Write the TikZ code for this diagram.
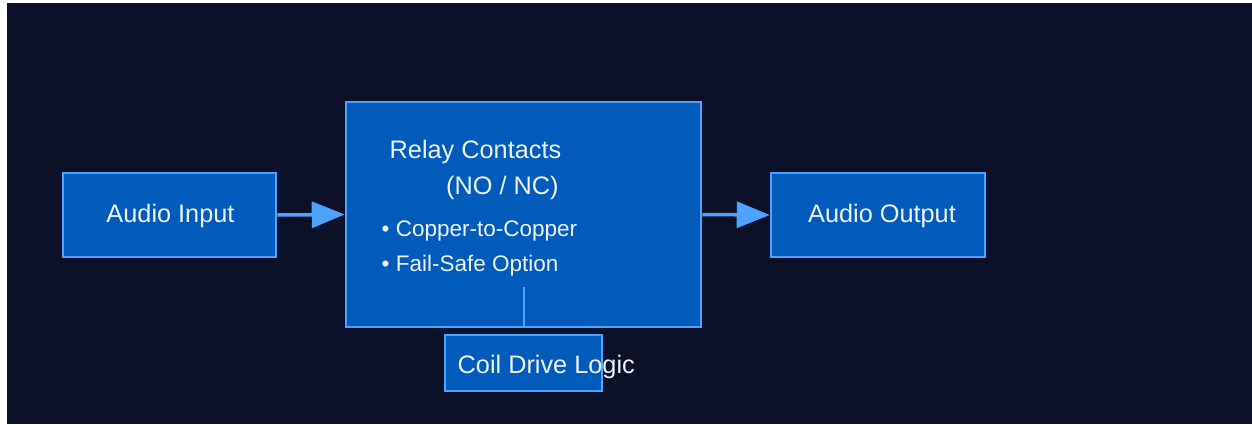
\documentclass[tikz,border=0pt]{standalone}
\usepackage{fontspec}
\setmainfont{Liberation Sans}
\usetikzlibrary{arrows.meta}
\definecolor{bgnavy}{RGB}{10,17,40}
\definecolor{boxfill}{RGB}{0,91,187}
\definecolor{boxline}{RGB}{77,163,255}
\definecolor{txt}{RGB}{240,244,255}
\tikzset{
  blockbox/.style={draw=boxline, fill=boxfill, line width=2.5pt, inner sep=0pt},
  maintext/.style={text=txt, inner sep=0pt, font=\fontsize{25.3}{30}\selectfont},
  bullettext/.style={text=txt, inner sep=0pt, anchor=base west, font=\fontsize{22.5}{27}\selectfont},
  flow/.style={draw=boxline, line width=3.5pt, -{Triangle[length=33pt,width=26pt]}},
  stubline/.style={draw=boxline, line width=2pt}
}
\begin{document}
\begin{tikzpicture}[x=1pt,y=-1pt]
\useasboundingbox (0,0) rectangle (1252,424);
\fill[white] (0,0) rectangle (1252,424);
\fill[bgnavy] (7,3) rectangle (1252,424);
% blocks
\node[blockbox, minimum width=213pt, minimum height=84pt] (in) at (169.5,215) {};
\node[blockbox, minimum width=355pt, minimum height=225pt] (relay) at (523.5,214.5) {};
\node[blockbox, minimum width=214pt, minimum height=84pt] (out) at (878,215) {};
\node[blockbox, minimum width=157pt, minimum height=56pt] (coil) at (523.5,363) {};
% texts
\node[maintext, anchor=base] (intext) at (170.5,222.5) {Audio Input};
\node[maintext, anchor=base] (outtext) at (882,222.5) {Audio Output};
\node[maintext, anchor=base west] (rt1) at (389.5,158.3) {Relay Contacts};
\node[maintext, anchor=base west] (rt2) at (446,194) {(NO / NC)};
\node[bullettext] (b1) at (381.5,236.7) {\textbullet\ Copper-to-Copper};
\node[bullettext] (b2) at (381.5,271.7) {\textbullet\ Fail-Safe Option};
\node[maintext, anchor=base west] (coiltext) at (457.5,373.3) {Coil Drive Logic};
% connectors
\draw[flow] (in.east) -- (relay.west);
\draw[flow] (relay.east) -- (out.west);
\coordinate (stub) at (523.5,287);
\draw[stubline] (stub) -- (relay.south);
\end{tikzpicture}
\end{document}
